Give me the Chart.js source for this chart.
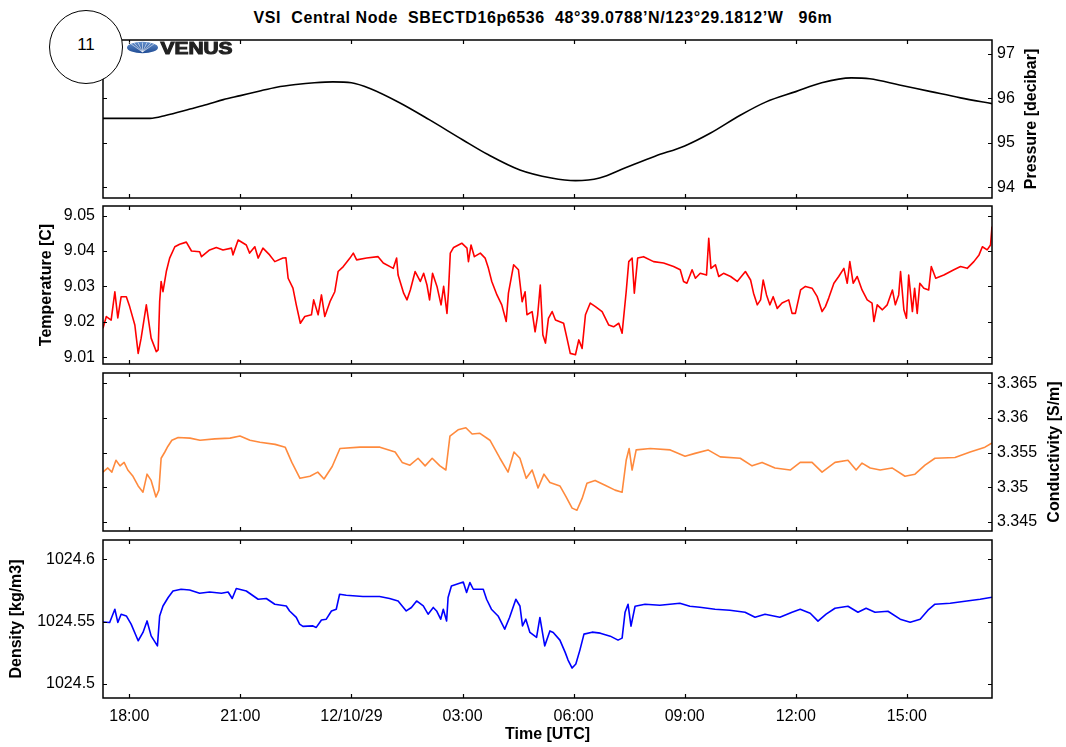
<!DOCTYPE html>
<html>
<head>
<meta charset="utf-8">
<script src="https://cdn.jsdelivr.net/npm/chart.js@4.4.0/dist/chart.umd.min.js"></script>
<style>
  body { margin:0; background:#fff; width:1066px; height:747px; position:relative; overflow:hidden;
         font-family:"Liberation Sans", Arial, Helvetica, sans-serif; }
  canvas.panel { position:absolute; left:0; }
  #title { position:absolute; top:9px; left:0; width:1086px; text-align:center; font-weight:bold;
           font-size:16px; letter-spacing:0.6px; white-space:pre; color:#000; }
  #badge { position:absolute; left:49px; top:10px; width:74px; height:74px; box-sizing:border-box;
           border:1.5px solid #000; border-radius:50%; background:#fff; z-index:5;
           font-size:17px; line-height:68px; text-align:center; color:#000; }
  #logo { position:absolute; left:120px; top:38px; z-index:5; }
</style>
</head>
<body>
<div id="title">VSI  Central Node  SBECTD16p6536  48°39.0788’N/123°29.1812’W   96m</div>
<canvas id="c1" class="panel"></canvas>
<canvas id="c2" class="panel"></canvas>
<canvas id="c3" class="panel"></canvas>
<canvas id="c4" class="panel"></canvas>
<div id="badge">11</div>
<canvas id="logo" width="120" height="20"></canvas>
<script>
// x axis: hours since 00:00 of 12/10/28 (24 = midnight 12/10/29)
const xMin = 17.29
const xMax = 41.30
const xTickValues = [18, 21, 24, 27, 30, 33, 36, 39]
const xTickLabels = ['18:00', '21:00', '12/10/29', '03:00', '06:00', '09:00', '12:00', '15:00']

// Pressure [decibar]
const pressTime = [17.29,18.0,18.56,19.0,19.64,20.1,20.54,21.0,21.5,21.98,22.5,23.0,23.5,24.0,24.5,25.3,26.1,27.0,27.7,28.55,
  29.4,30.05,30.7,31.4,32.2,33.0,33.7,34.5,35.2,36.0,36.7,37.5,38.0,38.8,39.65,40.45,41.3]
const pressValues = [95.55,95.55,95.55,95.62,95.76,95.86,95.97,96.06,96.16,96.25,96.31,96.35,96.37,96.35,96.22,95.9,95.52,95.07,94.73,94.39,
  94.21,94.15,94.21,94.44,94.70,94.93,95.22,95.62,95.92,96.15,96.35,96.46,96.44,96.30,96.15,96.01,95.88]
const pressTicks = [94, 95, 96, 97]

// Temperature [C]
const tempTime = [
  17.29,17.38,17.51,17.61,17.69,17.78,17.92,18.01,18.15,18.24,
  18.32,18.46,18.59,18.73,18.78,18.82,18.86,18.91,19.00,19.09,
  19.23,19.36,19.54,19.68,19.90,19.95,20.17,20.35,20.53,20.76,
  20.80,20.94,21.16,21.25,21.39,21.48,21.61,21.79,21.93,22.15,
  22.23,22.29,22.42,22.51,22.62,22.74,22.92,22.98,23.10,23.19,
  23.28,23.42,23.55,23.64,23.78,23.96,24.05,24.14,24.41,24.72,
  24.86,25.13,25.22,25.26,25.41,25.50,25.59,25.72,25.86,25.95,
  26.04,26.11,26.19,26.31,26.42,26.49,26.58,26.62,26.67,26.76,
  26.98,27.12,27.16,27.23,27.32,27.48,27.61,27.70,27.79,27.93,
  28.06,28.18,28.24,28.38,28.51,28.61,28.69,28.74,28.88,28.96,
  29.03,29.10,29.17,29.24,29.32,29.42,29.51,29.73,29.82,29.91,
  30.05,30.14,30.23,30.32,30.45,30.59,30.77,30.95,31.08,31.22,
  31.31,31.42,31.49,31.58,31.64,31.73,31.89,32.16,32.43,32.70,
  32.88,32.97,33.06,33.20,33.29,33.42,33.59,33.65,33.71,33.83,
  33.92,34.05,34.24,34.42,34.64,34.78,34.86,34.96,35.05,35.12,
  35.21,35.30,35.39,35.50,35.63,35.81,35.90,35.99,36.13,36.26,
  36.44,36.58,36.71,36.80,36.89,37.03,37.16,37.30,37.39,37.46,
  37.55,37.66,37.79,37.93,38.06,38.11,38.20,38.34,38.47,38.61,
  38.69,38.78,38.83,38.92,38.99,39.05,39.15,39.21,39.28,39.35,
  39.46,39.59,39.66,39.78,40.00,40.27,40.45,40.63,40.81,40.95,
  41.04,41.17,41.26,41.30]
const tempValues = [
  9.0182,9.0215,9.0205,9.0285,9.0211,9.0271,9.0271,9.0243,9.0191,9.0111,
  9.0154,9.0248,9.0154,9.0116,9.0121,9.0257,9.0314,9.0285,9.0342,9.0380,
  9.0412,9.0419,9.0425,9.0400,9.0398,9.0384,9.0403,9.0410,9.0403,9.0408,
  9.0389,9.0431,9.0417,9.0394,9.0412,9.0380,9.0408,9.0389,9.0370,9.0380,
  9.0381,9.0323,9.0295,9.0248,9.0196,9.0215,9.0220,9.0262,9.0220,9.0276,
  9.0215,9.0257,9.0285,9.0342,9.0356,9.0380,9.0394,9.0375,9.0380,9.0384,
  9.0366,9.0351,9.0380,9.0332,9.0281,9.0262,9.0290,9.0342,9.0314,9.0337,
  9.0304,9.0262,9.0337,9.0300,9.0248,9.0300,9.0224,9.0285,9.0394,9.0410,
  9.0422,9.0408,9.0370,9.0417,9.0384,9.0394,9.0380,9.0351,9.0314,9.0276,
  9.0248,9.0201,9.0281,9.0361,9.0347,9.0257,9.0285,9.0220,9.0229,9.0172,
  9.0220,9.0304,9.0163,9.0140,9.0210,9.0229,9.0205,9.0196,9.0154,9.0111,
  9.0107,9.0149,9.0125,9.0220,9.0253,9.0243,9.0229,9.0191,9.0186,9.0196,
  9.0168,9.0285,9.0370,9.0380,9.0281,9.0380,9.0384,9.0370,9.0366,9.0356,
  9.0347,9.0314,9.0309,9.0347,9.0323,9.0337,9.0332,9.0436,9.0351,9.0361,
  9.0328,9.0337,9.0328,9.0314,9.0342,9.0318,9.0281,9.0248,9.0262,9.0318,
  9.0276,9.0248,9.0271,9.0238,9.0253,9.0262,9.0224,9.0224,9.0290,9.0300,
  9.0295,9.0271,9.0229,9.0243,9.0267,9.0309,9.0328,9.0351,9.0309,9.0370,
  9.0309,9.0328,9.0290,9.0262,9.0253,9.0201,9.0248,9.0234,9.0248,9.0290,
  9.0248,9.0276,9.0342,9.0234,9.0210,9.0332,9.0229,9.0295,9.0224,9.0309,
  9.0295,9.0290,9.0356,9.0323,9.0332,9.0347,9.0356,9.0351,9.0370,9.0389,
  9.0412,9.0403,9.0417,9.0469]
const tempTicks = [9.01, 9.02, 9.03, 9.04, 9.05]

// Conductivity [S/m]
const condTime = [
  17.29,17.42,17.53,17.64,17.75,17.86,17.96,18.10,18.24,18.37,
  18.48,18.59,18.72,18.80,18.86,18.96,19.04,19.15,19.32,19.64,
  19.91,20.31,20.72,20.99,21.26,21.53,21.94,22.21,22.39,22.61,
  22.88,23.09,23.26,23.48,23.69,24.23,24.77,25.18,25.37,25.58,
  25.80,25.99,26.18,26.39,26.55,26.66,26.88,27.09,27.26,27.47,
  27.74,28.01,28.23,28.39,28.55,28.72,28.88,29.04,29.20,29.36,
  29.63,29.79,29.96,30.09,30.23,30.36,30.58,30.85,31.12,31.31,
  31.42,31.50,31.58,31.69,32.07,32.61,33.01,33.28,33.63,33.96,
  34.50,34.82,35.09,35.44,35.85,36.12,36.44,36.71,37.06,37.41,
  37.63,37.79,38.01,38.28,38.60,38.95,39.22,39.49,39.76,40.30,
  40.71,41.11,41.30]
const condValues = [
  3.3522,3.3528,3.3522,3.3539,3.3531,3.3536,3.3525,3.3516,3.3502,3.3493,
  3.3519,3.3510,3.3486,3.3496,3.3542,3.3551,3.3559,3.3568,3.3572,3.3571,
  3.3568,3.3570,3.3571,3.3574,3.3568,3.3565,3.3562,3.3558,3.3536,3.3513,
  3.3516,3.3522,3.3512,3.3530,3.3556,3.3558,3.3558,3.3551,3.3536,3.3532,
  3.3542,3.3531,3.3542,3.3531,3.3525,3.3574,3.3583,3.3586,3.3577,3.3578,
  3.3568,3.3542,3.3522,3.3551,3.3542,3.3513,3.3525,3.3499,3.3519,3.3507,
  3.3502,3.3487,3.3470,3.3467,3.3484,3.3506,3.3510,3.3503,3.3496,3.3493,
  3.3539,3.3556,3.3525,3.3554,3.3556,3.3554,3.3545,3.3549,3.3554,3.3544,
  3.3542,3.3531,3.3536,3.3528,3.3525,3.3536,3.3536,3.3522,3.3536,3.3539,
  3.3525,3.3535,3.3528,3.3525,3.3528,3.3516,3.3519,3.3532,3.3542,3.3543,
  3.3551,3.3558,3.3564]
const condTicks = [3.345, 3.35, 3.355, 3.36, 3.365]

// Density [kg/m3]
const densTime = [
  17.29,17.47,17.61,17.69,17.78,17.92,18.05,18.24,18.37,18.48,
  18.59,18.76,18.82,18.91,19.05,19.18,19.40,19.63,19.90,20.17,
  20.49,20.67,20.78,20.89,21.16,21.48,21.70,21.93,22.24,22.33,
  22.51,22.60,22.69,22.96,23.05,23.19,23.32,23.46,23.59,23.68,
  23.86,24.31,24.76,25.03,25.26,25.48,25.62,25.76,25.94,26.07,
  26.21,26.30,26.41,26.48,26.57,26.61,26.70,26.84,27.02,27.11,
  27.20,27.29,27.56,27.65,27.78,27.96,28.14,28.27,28.44,28.55,
  28.62,28.71,28.82,29.00,29.09,29.22,29.36,29.45,29.63,29.77,
  29.85,29.96,30.06,30.17,30.28,30.50,30.72,30.99,31.20,31.31,
  31.39,31.47,31.55,31.66,31.93,32.33,32.87,33.14,33.41,33.82,
  34.22,34.63,34.90,35.17,35.57,35.90,36.12,36.39,36.60,36.82,
  37.06,37.41,37.68,37.90,38.14,38.49,38.82,39.09,39.36,39.57,
  39.76,40.17,40.57,40.98,41.30]
const densValues = [
  1024.5498,1024.5494,1024.5600,1024.5494,1024.5560,1024.5546,1024.5480,1024.5347,1024.5414,1024.5506,
  1024.5386,1024.5306,1024.5546,1024.5626,1024.5694,1024.5746,1024.5760,1024.5754,1024.5728,1024.5738,
  1024.5728,1024.5738,1024.5686,1024.5766,1024.5746,1024.5680,1024.5686,1024.5640,1024.5626,1024.5586,
  1024.5534,1024.5480,1024.5462,1024.5466,1024.5454,1024.5514,1024.5520,1024.5586,1024.5600,1024.5720,
  1024.5712,1024.5702,1024.5702,1024.5686,1024.5666,1024.5586,1024.5614,1024.5666,1024.5626,1024.5560,
  1024.5614,1024.5586,1024.5520,1024.5600,1024.5506,1024.5694,1024.5786,1024.5800,1024.5818,1024.5734,
  1024.5814,1024.5760,1024.5760,1024.5680,1024.5600,1024.5546,1024.5440,1024.5534,1024.5680,1024.5626,
  1024.5466,1024.5520,1024.5414,1024.5374,1024.5534,1024.5306,1024.5426,1024.5414,1024.5352,1024.5256,
  1024.5192,1024.5128,1024.5160,1024.5272,1024.5400,1024.5416,1024.5408,1024.5384,1024.5352,1024.5368,
  1024.5576,1024.5640,1024.5464,1024.5624,1024.5640,1024.5632,1024.5648,1024.5624,1024.5616,1024.5600,
  1024.5592,1024.5576,1024.5536,1024.5560,1024.5536,1024.5576,1024.5600,1024.5568,1024.5504,1024.5560,
  1024.5608,1024.5624,1024.5576,1024.5608,1024.5576,1024.5584,1024.5520,1024.5496,1024.5520,1024.5592,
  1024.5640,1024.5648,1024.5664,1024.5680,1024.5696]
const densTicks = [1024.5, 1024.55, 1024.6]

const FONT = "'Liberation Sans', Arial, Helvetica, sans-serif"
Chart.defaults.font.family = FONT
Chart.defaults.font.size = 16
Chart.defaults.color = '#000'
Chart.defaults.animation = false

// box around plot area + inward ticks on all four sides, MATLAB style
const framePlugin = {
  id: 'frame',
  afterDraw(chart, args, opts) {
    const {ctx, chartArea: a, scales} = chart
    ctx.save()
    ctx.strokeStyle = '#000'
    ctx.lineWidth = 1.5
    ctx.strokeRect(a.left, a.top, a.right - a.left, a.bottom - a.top)
    ctx.lineWidth = 1.2
    ctx.beginPath()
    xTickValues.forEach(v => {
      const px = Math.round(scales.x.getPixelForValue(v)) + 0.5
      ctx.moveTo(px, a.top); ctx.lineTo(px, a.top + 4)
      ctx.moveTo(px, a.bottom); ctx.lineTo(px, a.bottom - 4)
    })
    opts.yTicks.forEach(v => {
      const py = Math.round(scales.y.getPixelForValue(v)) + 0.5
      ctx.moveTo(a.left, py); ctx.lineTo(a.left + 4, py)
      ctx.moveTo(a.right, py); ctx.lineTo(a.right - 4, py)
    })
    ctx.stroke()
    // right-side axis title, read bottom to top
    if (opts.rightTitle) {
      ctx.translate(opts.rightTitleX, (a.top + a.bottom) / 2)
      ctx.rotate(-Math.PI / 2)
      ctx.font = 'bold 16px ' + FONT
      ctx.fillStyle = '#000'
      ctx.textAlign = 'center'
      ctx.textBaseline = 'middle'
      ctx.fillText(opts.rightTitle, 0, 0)
    }
    ctx.restore()
  }
}

function noPad(axis) {
  axis.paddingTop = 0
  axis.paddingBottom = 0
  axis.paddingLeft = 0
  axis.paddingRight = 0
}

function makePanel(id, top, cfg) {
  const canvas = document.getElementById(id)
  const height = cfg.bottomAxis ? 217 : 178
  canvas.width = 1066
  canvas.height = height
  canvas.style.top = top + 'px'
  const points = cfg.time.map((t, i) => ({x: t, y: cfg.values[i]}))
  const leftAxis = cfg.side === 'left'
  new Chart(canvas, {
    type: 'line',
    data: {
      datasets: [{
        data: points,
        borderColor: cfg.color,
        borderWidth: 1.6,
        borderJoinStyle: 'round',
        pointRadius: 0,
        cubicInterpolationMode: cfg.smooth ? 'monotone' : 'default',
        tension: cfg.smooth ? 0.4 : 0
      }]
    },
    options: {
      responsive: false,
      animation: false,
      events: [],
      layout: {
        padding: {
          left: leftAxis ? 0 : 103,
          right: leftAxis ? 74 : 24,
          top: 10,
          bottom: cfg.bottomAxis ? 0 : 10
        }
      },
      plugins: {
        legend: {display: false},
        tooltip: {enabled: false},
        frame: {yTicks: cfg.ticks, rightTitle: leftAxis ? null : cfg.title, rightTitleX: cfg.titleX}
      },
      scales: {
        x: {
          type: 'linear',
          display: !!cfg.bottomAxis,
          min: xMin,
          max: xMax,
          grid: {display: false, drawTicks: false},
          border: {display: false},
          afterBuildTicks: axis => { axis.ticks = xTickValues.map(v => ({value: v})) },
          afterFit: axis => { axis.height = cfg.bottomAxis ? 49 : 0; noPad(axis) },
          ticks: {
            autoSkip: false,
            maxRotation: 0,
            padding: 9,
            callback: (v, i) => xTickLabels[i]
          },
          title: {
            display: true,
            text: 'Time [UTC]',
            font: {size: 16, weight: 'bold'},
            padding: {top: 0, bottom: 3}
          }
        },
        y: {
          type: 'linear',
          position: cfg.side,
          min: cfg.min,
          max: cfg.max,
          grid: {display: false, drawTicks: false},
          border: {display: false},
          afterBuildTicks: axis => { axis.ticks = cfg.ticks.map(v => ({value: v})) },
          afterFit: axis => { axis.width = leftAxis ? 103 : 50; noPad(axis) },
          ticks: {
            padding: leftAxis ? 8 : 5,
            callback: v => String(v)
          },
          title: {
            display: leftAxis,
            text: cfg.title,
            font: {size: 16, weight: 'bold'},
            padding: {top: cfg.titlePad || 0, bottom: 0}
          }
        }
      }
    },
    plugins: [framePlugin]
  })
}

makePanel('c1', 30, {
  time: pressTime, values: pressValues, ticks: pressTicks, min: 93.76, max: 97.31,
  color: '#000000', side: 'right', title: 'Pressure [decibar]', titleX: 1032, smooth: true
})
makePanel('c2', 196, {
  time: tempTime, values: tempValues, ticks: tempTicks, min: 9.0081, max: 9.0527,
  color: '#ff0000', side: 'left', title: 'Temperature [C]', titlePad: 37
})
makePanel('c3', 363, {
  time: condTime, values: condValues, ticks: condTicks, min: 3.3437, max: 3.3665,
  color: '#ff8a3d', side: 'right', title: 'Conductivity [S/m]', titleX: 1055
})
makePanel('c4', 530, {
  time: densTime, values: densValues, ticks: densTicks, min: 1024.4888, max: 1024.6155,
  color: '#0000ff', side: 'left', title: 'Density [kg/m3]', titlePad: 7, bottomAxis: true
})

// VENUS logo
const lg = document.getElementById('logo').getContext('2d')
const grad = lg.createLinearGradient(0, 3, 0, 15)
grad.addColorStop(0, '#6a95d0')
grad.addColorStop(1, '#1f4c95')
lg.fillStyle = grad
lg.beginPath()
lg.ellipse(22.5, 9.5, 15.5, 5.8, 0, 0, Math.PI * 2)
lg.fill()
lg.strokeStyle = 'rgba(255,255,255,0.7)'
lg.lineWidth = 0.8
lg.beginPath()
for (let k = -3; k <= 3; k++) {
  lg.moveTo(22.5, 14)
  lg.lineTo(22.5 + k * 4.5, 4.5)
}
lg.stroke()
lg.font = 'bold 16px ' + FONT
const w = lg.measureText('VENUS').width
lg.save()
lg.translate(40.5, 16)
lg.scale(72 / w, 1)
lg.fillStyle = '#222'
lg.strokeStyle = '#222'
lg.lineWidth = 1
lg.fillText('VENUS', 0, 0)
lg.strokeText('VENUS', 0, 0)
lg.restore()
</script>
</body>
</html>
